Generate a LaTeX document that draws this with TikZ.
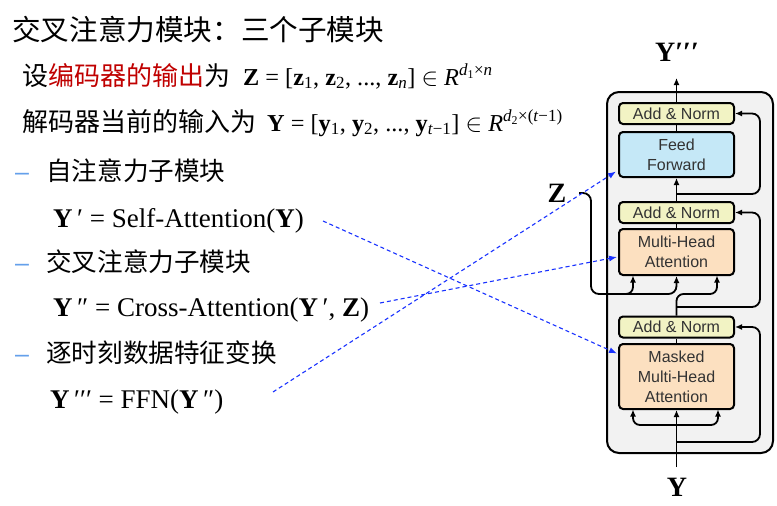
\documentclass[tikz,border=0pt]{standalone}
\usepackage{fontspec}
\setmainfont{Liberation Serif}
\setsansfont{Liberation Sans}
\newfontfamily\cjk{Noto Sans CJK SC}
\usetikzlibrary{arrows.meta,calc}
\definecolor{anfill}{RGB}{242,243,196}
\definecolor{fffill}{RGB}{197,232,247}
\definecolor{mhfill}{RGB}{252,224,192}
\definecolor{outfill}{RGB}{242,242,242}
\definecolor{redtxt}{RGB}{192,0,0}
\definecolor{dashblue}{RGB}{25,50,255}
\definecolor{bulletblue}{RGB}{100,160,235}
\tikzset{
  blk/.style={draw=black, line width=2pt, rounded corners=4pt, minimum width=115pt,
    align=center, font=\sffamily\fontsize{16}{20}\selectfont, text=black!80, inner sep=0pt},
  anbox/.style={blk, fill=anfill, minimum height=21pt},
  arr/.style={line width=1.8pt, -{Latex[length=7pt,width=6pt]}},
  ln/.style={line width=1.8pt},
  bluearr/.style={dashblue, line width=1.1pt, dash pattern=on 4pt off 3pt, -{Latex[length=8pt,width=6pt]}},
  cjkt/.style={font=\cjk\fontsize{26}{30}\selectfont, anchor=base west, inner sep=0pt},
  cjkb/.style={font=\cjk\fontsize{25.6}{30}\selectfont, anchor=base west, inner sep=0pt},
  frm/.style={font=\fontsize{24.3}{30}\selectfont, anchor=base west, inner sep=0pt},
  frmb/.style={font=\fontsize{27}{30}\selectfont, anchor=base west, inner sep=0pt},
  dashmark/.style={font=\sffamily\fontsize{25}{30}\selectfont, text=bulletblue, anchor=base west, inner sep=0pt},
  lbl/.style={font=\bfseries\fontsize{28}{30}\selectfont, inner sep=0pt}
}
\begin{document}
\begin{tikzpicture}[x=1pt,y=-1pt]
\useasboundingbox[fill=white] (0,0) rectangle (777,506);
% texts
\node[cjkt, font=\cjk\fontsize{28.6}{32}\selectfont] (title) at (12,40) {交叉注意力模块：三个子模块};
\node[cjkt] (l2) at (22,85) {设\textcolor{redtxt}{编码器的输出}为};
\node[frm] (f2) at (243,85) {\textbf{Z} = [\textbf{z}\textsubscript{1}, \textbf{z}\textsubscript{2}, ..., \textbf{z}\textsubscript{\textit{n}}] $\in$ \textit{R}\textsuperscript{\textit{d}\textsubscript{1}×\textit{n}}};
\node[cjkt] (l3) at (22,131) {解码器当前的输入为};
\node[frm] (f3) at (267,131) {\textbf{Y} = [\textbf{y}\textsubscript{1}, \textbf{y}\textsubscript{2}, ..., \textbf{y}\textsubscript{\textit{t}−1}] $\in$ \textit{R}\textsuperscript{\textit{d}\textsubscript{2}×(\textit{t}−1)}};
\node[dashmark] (d1) at (15,180) {–};
\node[cjkb] (b1) at (46,180) {自注意力子模块};
\node[frmb] (e1) at (53,227) {\textbf{Y}\,′ = Self-Attention(\textbf{Y})};
\node[dashmark] (d2) at (15,271) {–};
\node[cjkb] (b2) at (46,271) {交叉注意力子模块};
\node[frmb] (e2) at (53,316) {\textbf{Y}\,″ = Cross-Attention(\textbf{Y}\,′, \textbf{Z})};
\node[dashmark] (d3) at (15,362) {–};
\node[cjkb] (b3) at (46,362) {逐时刻数据特征变换};
\node[frmb] (e3) at (50,408) {\textbf{Y}\,′′′ = FFN(\textbf{Y}\,″)};
% outer box
\draw[line width=2pt, fill=outfill, rounded corners=12pt] (607,92) rectangle (773,453);
% blocks
\node[anbox] (an1) at (676.5,113.5) {Add \& Norm};
\node[blk, fill=fffill, minimum height=45pt] (ff) at (676.5,154.5) {Feed\\Forward};
\node[anbox] (an2) at (676.5,212.5) {Add \& Norm};
\node[blk, fill=mhfill, minimum height=46pt] (mha) at (676.5,252) {Multi-Head\\Attention};
\node[anbox] (an3) at (676.5,327) {Add \& Norm};
\node[blk, fill=mhfill, minimum height=65pt] (mmha) at (676.5,376.5) {Masked\\Multi-Head\\Attention};
% labels
\node[lbl] (ytop) at (677,52) {Y′′′};
\node[lbl] (ybot) at (677,487) {Y};
\node[lbl] (zl) at (557,193) {Z};
% coordinates
\coordinate (outtop) at (676.5,78);
\coordinate (r1) at (676.5,194);
\coordinate (r2) at (676.5,307);
\coordinate (r3) at (676.5,442);
\coordinate (yin) at (676.5,467);
\coordinate (brin) at (676.5,425);
\coordinate (zs) at (579,193);
\coordinate (s1) at (323,221);
\coordinate (s2) at (380,303);
\coordinate (s3) at (273,392);
% vertical connectors
\draw[arr] (an1.north) -- (outtop);
\draw[ln] (an1.south) -- (ff.north);
\draw[arr] (r1) -- (ff.south);
\draw[ln] (r1) -- (an2.north);
\draw[ln] (an2.south) -- (mha.north);
\draw[ln] (an3.south) -- (mmha.north);
\draw[arr] (yin) -- (mmha.south);
% residuals
\draw[arr, rounded corners=8pt] (r1) -- (760,194) -- (760,113.5) -- (an1.east);
\draw[arr, rounded corners=8pt] (r2) -- (760,307) -- (760,212.5) -- (an2.east);
\draw[arr, rounded corners=8pt] (r3) -- (760,442) -- (760,327) -- (an3.east);
% masked attention inputs
\draw[arr, rounded corners=7pt] (brin) -- (633,425) -- (633,409.5);
\draw[arr, rounded corners=7pt] (brin) -- (718,425) -- (718,409.5);
% cross attention inputs
\draw[arr, rounded corners=7pt] (an3.north) -- (676.5,294) -- (717,294) -- (717,275.5);
\draw[arr, rounded corners=8pt] (zs) -- (591,193) -- (591,294) -- (676.5,294) -- (mha.south);
\draw[arr, rounded corners=7pt] (610,294) -- (633,294) -- (633,275.5);
% blue dashed
\draw[bluearr] (s1) -- ($(mmha.west)+(-1,-23)$);
\draw[bluearr] (s2) -- ($(mha.west)+(-1,5)$);
\draw[bluearr] (s3) -- ($(ff.west)+(-2,17)$);
\end{tikzpicture}
\end{document}
